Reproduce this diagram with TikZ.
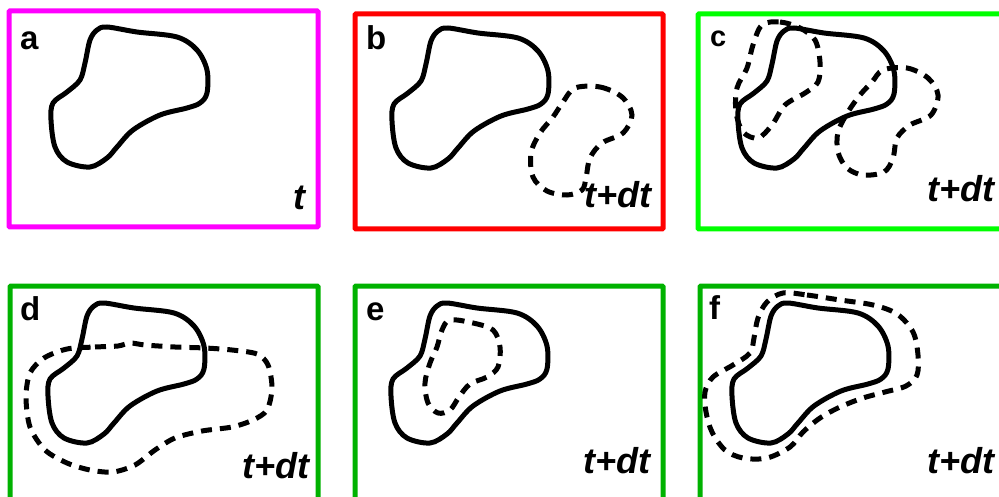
\documentclass[tikz,border=0pt]{standalone}
\usepackage{fontspec}
\setmainfont{Liberation Sans}
\definecolor{pmag}{RGB}{255,0,255}
\definecolor{pred}{RGB}{255,0,0}
\definecolor{plime}{RGB}{0,255,0}
\definecolor{pgreen}{RGB}{0,178,0}
\tikzset{
  frame/.style={line width=5pt, rounded corners=1pt},
  blobline/.style={line width=5pt, line join=round},
  dashline/.style={line width=5pt, dash pattern=on 11pt off 8pt},
  lab/.style={anchor=base west, inner sep=0pt, font=\fontsize{33}{33}\selectfont\bfseries},
  tlab/.style={anchor=base east, inner sep=0pt, font=\fontsize{36}{36}\selectfont\bfseries\itshape},
  blob/.pic={\draw[blobline] plot[smooth cycle, tension=0.55] coordinates {
    (107,27) (137,32) (177,37) (197,50) (207,70) (207,93) (200,103) (187,108)
    (160,115) (133,130) (117,147) (107,158) (90,167) (67,162) (55,147) (51,120)
    (53,103) (67,92) (80,80) (85,63) (90,40) (97,30)};}
}
\begin{document}
\begin{tikzpicture}[x=1pt, y=-1pt]
\useasboundingbox (0,0) rectangle (999,497);
\clip (0,0) rectangle (999,497);
% frames
\draw[frame, pmag] (9,11) rectangle (318,227);
\draw[frame, pred] (355,14) rectangle (663,229);
\draw[frame, plime] (698,14) rectangle (1010,229);
\draw[frame, pgreen] (10,286) rectangle (318,510);
\draw[frame, pgreen] (355,286) rectangle (663,510);
\draw[frame, pgreen] (700,286) rectangle (1010,510);
% panel labels
\node[lab] (la) at (20,50) {a};
\node[lab] (lb) at (366,50) {b};
\node[lab, font=\fontsize{29}{29}\selectfont\bfseries] (lc) at (710,47) {c};
\node[lab] (ld) at (20,320) {d};
\node[lab] (le) at (366,320) {e};
\node[lab] (lf) at (709,319) {f};
% time labels
\node[tlab] (ta) at (306,210) {t};
\node[tlab] (tb) at (652,208) {t+dt};
\node[tlab] (tc) at (995,202) {t+dt};
\node[tlab] (td) at (310,478) {t+dt};
\node[tlab] (te) at (651,473) {t+dt};
\node[tlab] (tf) at (995,473) {t+dt};
% blobs
\pic at (0,0) {blob};
\pic at (341,1) {blob};
\pic at (687,1) {blob};
\pic at (-3,276) {blob};
\pic at (340,276) {blob};
\pic at (681,276) {blob};
% dashed contours
\draw[dashline] plot[smooth cycle, tension=0.55] coordinates {
  (575,88) (600,87) (622,97) (632,115) (623,133) (602,143) (590,158) (586,178)
  (582,190) (567,195) (547,191) (533,177) (531,153) (540,133) (553,117) (563,102)};
\draw[dashline] plot[smooth cycle, tension=0.55] coordinates {
  (762,25) (780,22) (800,28) (815,40) (820,62) (818,82) (805,93) (785,105)
  (772,125) (758,138) (743,132) (736,112) (737,88) (747,68) (753,45)};
\draw[dashline] plot[smooth cycle, tension=0.55] coordinates {
  (883,70) (907,68) (928,78) (938,95) (931,115) (910,125) (897,138) (893,158)
  (884,172) (863,175) (847,168) (838,152) (838,132) (848,112) (860,95) (872,82)};
\draw[dashline] plot[smooth cycle, tension=0.5] coordinates {
  (67,349) (95,347) (118,346) (130,343) (145,345) (175,347) (205,348) (232,350)
  (257,354) (268,365) (272,388) (267,410) (253,420) (232,427) (202,431) (175,438)
  (155,450) (135,465) (113,472) (90,470) (67,463) (45,450) (30,427) (26,397)
  (30,373) (44,358)};
\draw[dashline] plot[smooth cycle, tension=0.55] coordinates {
  (450,320) (473,323) (493,330) (500,347) (498,367) (487,377) (470,384) (459,397)
  (450,410) (438,413) (428,403) (425,383) (430,363) (437,347) (442,330)};
\draw[dashline] plot[smooth cycle, tension=0.55] coordinates {
  (783,293) (807,295) (840,300) (873,305) (897,314) (913,332) (918,355) (917,375)
  (906,386) (885,392) (863,398) (840,407) (820,418) (803,432) (790,447) (767,458)
  (743,458) (725,450) (712,432) (706,412) (705,392) (713,377) (733,365) (750,353)
  (754,338) (758,318) (767,302)};
\end{tikzpicture}
\end{document}
